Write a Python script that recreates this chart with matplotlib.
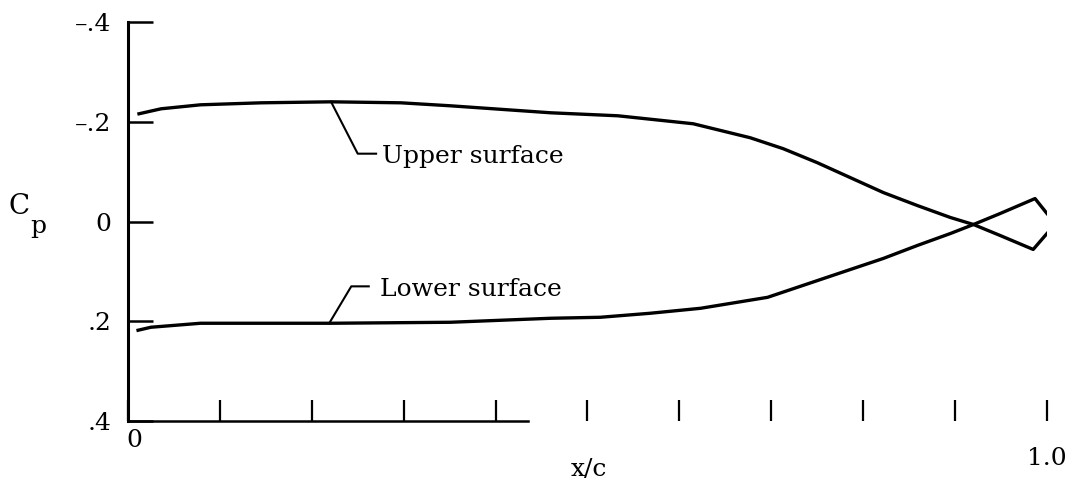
import matplotlib
matplotlib.use("Agg")
import matplotlib.pyplot as plt

plt.rcParams['font.family'] = ['DejaVu Serif']

# pressure coefficient
x_upper = [0.012, 0.036, 0.079, 0.145, 0.221, 0.297, 0.351, 0.46, 0.533, 0.615,
           0.677, 0.713, 0.75, 0.786, 0.822, 0.859, 0.895, 0.92, 0.949, 0.985, 1.0]
cp_upper = [-0.216, -0.226, -0.234, -0.238, -0.240, -0.238, -0.232, -0.218, -0.212, -0.196,
            -0.168, -0.146, -0.118, -0.088, -0.058, -0.032, -0.008, 0.006, 0.028, 0.056, 0.024]

x_lower = [0.011, 0.025, 0.079, 0.221, 0.351, 0.46, 0.514, 0.568, 0.623, 0.696,
           0.767, 0.822, 0.859, 0.895, 0.92, 0.949, 0.987, 1.0]
cp_lower = [0.218, 0.212, 0.204, 0.204, 0.202, 0.194, 0.192, 0.184, 0.174, 0.152,
            0.108, 0.074, 0.048, 0.024, 0.006, -0.016, -0.046, -0.016]

yticks = [-0.4, -0.2, 0, 0.2, 0.4]
ytick_labels = ['\u2013.4', '\u2013.2', '0', '.2', '.4']
xticks = [0.1 * i for i in range(11)]

fig = plt.figure(figsize=(10.69, 4.87), dpi=100)
ax = fig.add_axes([0.1197, 0.1355, 0.8597, 0.8193])

ax.plot(x_upper, cp_upper, color='black', lw=2.4, solid_joinstyle='round')
ax.plot(x_lower, cp_lower, color='black', lw=2.4, solid_joinstyle='round')

# leader lines to the labels
ax.plot([0.221, 0.250, 0.270], [-0.240, -0.136, -0.136], color='black', lw=1.5)
ax.plot([0.219, 0.243, 0.262], [0.204, 0.130, 0.130], color='black', lw=1.5)
ax.text(0.276, -0.130, 'Upper surface', fontsize=18, va='center', ha='left')
ax.text(0.274, 0.136, 'Lower surface', fontsize=18, va='center', ha='left')

ax.set_xlim(0, 1.0)
ax.set_ylim(0.4, -0.4)

for s in ['top', 'right']:
    ax.spines[s].set_visible(False)
ax.spines['left'].set_linewidth(2.2)
ax.spines['bottom'].set_linewidth(1.8)
ax.spines['bottom'].set_bounds(0, 0.435)

ax.set_yticks(yticks)
ax.set_yticklabels(ytick_labels, fontsize=18)
ax.tick_params(axis='y', direction='in', length=18, width=1.8, pad=12)
ax.set_xticks(xticks)
ax.set_xticklabels([])
ax.tick_params(axis='x', direction='in', length=15, width=1.6)

trans = ax.get_xaxis_transform()
ax.text(0.007, -0.02, '0', transform=trans, fontsize=18, ha='center', va='top')
ax.text(1.0, -0.065, '1.0', transform=trans, fontsize=18, ha='center', va='top')

fig.text(0.551, 0.035, 'x/c', fontsize=18, ha='center', va='center')
# C with a lowered p, as on the original drawing
fig.text(0.008, 0.575, 'C', fontsize=20, ha='left', va='center')
fig.text(0.028, 0.535, 'p', fontsize=18, ha='left', va='center')

fig.savefig('out.png', dpi=100)
